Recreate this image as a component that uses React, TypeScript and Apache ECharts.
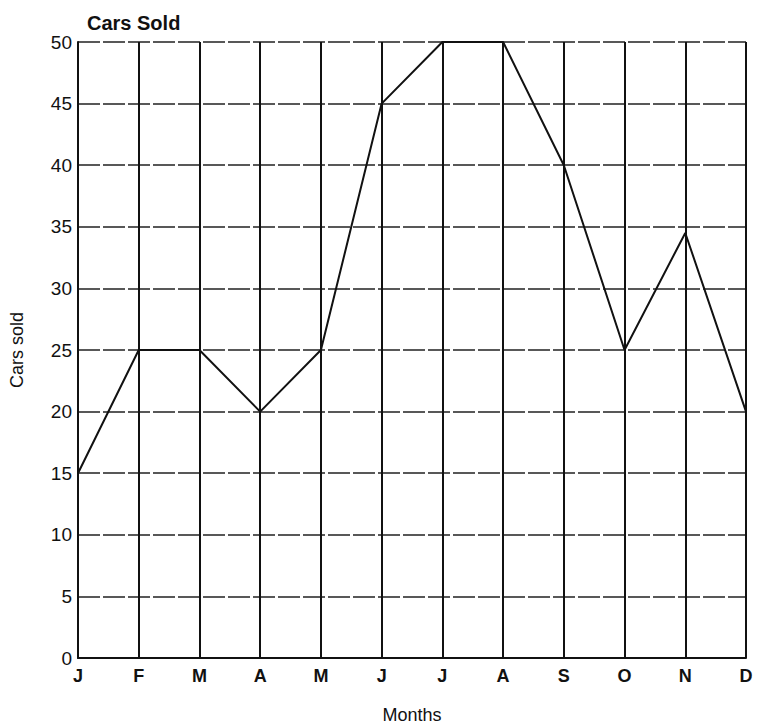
import React, { useEffect, useRef } from "react";
import * as echarts from "echarts";

const months = ["J", "F", "M", "A", "M", "J", "J", "A", "S", "O", "N", "D"];
const carsSold = [15, 25, 25, 20, 25, 45, 50, 50, 40, 25, 34.5, 20];
const yTicks = [0, 5, 10, 15, 20, 25, 30, 35, 40, 45, 50];

export default function App() {
  const ref = useRef<HTMLDivElement>(null);
  useEffect(() => {
    if (!ref.current) return;
    const chart = echarts.init(ref.current, null, { renderer: "svg" });
    chart.setOption({
      animation: false,
      backgroundColor: "#ffffff",
      textStyle: { fontFamily: "Liberation Sans, Arial, sans-serif" },
      title: {
        text: "Cars Sold",
        left: 82,
        top: 8,
        textStyle: { fontSize: 20, fontWeight: "bold", color: "#111", fontFamily: "Liberation Sans, Arial, sans-serif" },
      },
      grid: { left: 78, right: 12, top: 42, bottom: 68, containLabel: false, outerBoundsMode: "none" },
      xAxis: {
        type: "category",
        data: months,
        boundaryGap: false,
        name: "Months",
        nameLocation: "middle",
        nameGap: 48,
        nameTextStyle: { fontSize: 18, color: "#111" },
        axisLine: { lineStyle: { color: "#111", width: 2 } },
        axisTick: { show: false },
        axisLabel: { fontSize: 18, color: "#111", margin: 9, fontWeight: "bold", interval: 0 },
        splitLine: { show: true, lineStyle: { color: "#111", width: 2 } },
      },
      yAxis: {
        type: "value",
        min: 0,
        max: 50,
        interval: 5,
        name: "Cars sold",
        nameLocation: "middle",
        nameGap: 52,
        nameRotate: 90,
        nameTextStyle: { fontSize: 18, color: "#111" },
        axisLine: { show: true, lineStyle: { color: "#111", width: 2 } },
        axisTick: { show: false },
        axisLabel: {
          fontSize: 19,
          color: "#111",
          margin: 6,
          formatter: (v: number) => (yTicks.includes(v) ? String(v) : ""),
        },
        splitLine: { show: true, lineStyle: { color: "#222", width: 1.5, type: [22, 3] } },
      },
      series: [
        {
          type: "line",
          data: carsSold,
          symbol: "none",
          lineStyle: { color: "#111", width: 2 },
        },
      ],
    });
    return () => chart.dispose();
  }, []);
  return (
    <div
      ref={ref}
      style={{ position: "fixed", left: 0, top: 0, width: 758, height: 726 }}
    />
  );
}
